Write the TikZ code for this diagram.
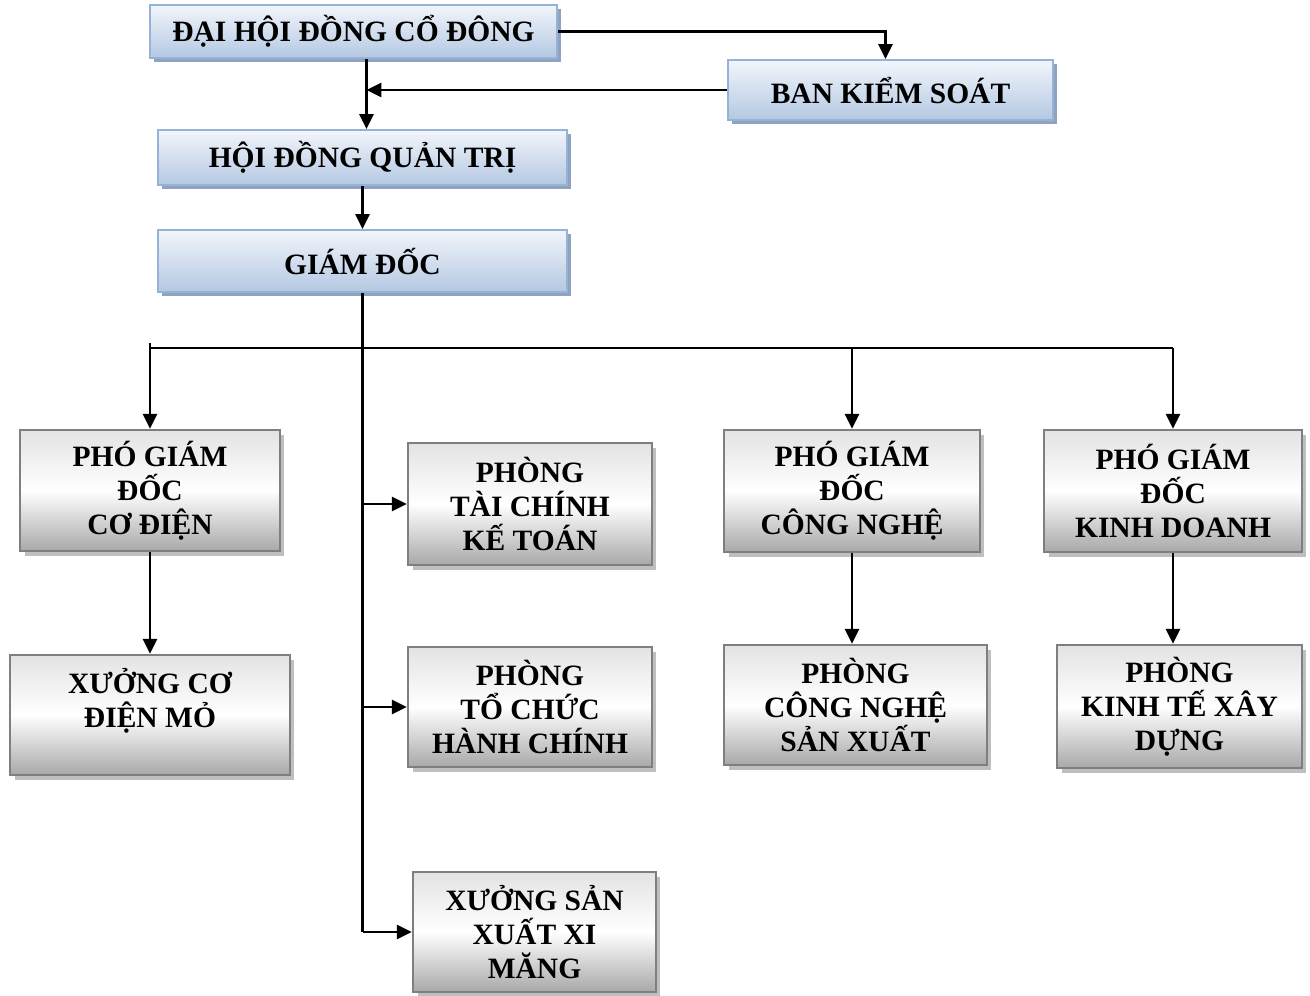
\documentclass[tikz,border=0pt]{standalone}
\usepackage{fontspec}
\setmainfont{Liberation Serif}
\usepackage{xcolor}
\usetikzlibrary{arrows.meta,positioning,shadows}

\definecolor{boardtop}{HTML}{F2F5FB}
\definecolor{boardbot}{HTML}{B4C8E2}
\definecolor{boardline}{HTML}{95B3D7}
\definecolor{boardshadow}{HTML}{8FA3BF}
\definecolor{unitline}{HTML}{7F7F7F}
\definecolor{unitshadow}{HTML}{BFBFBF}

\begin{document}
\begin{tikzpicture}[
  x=0.02cm, y=-0.02cm,
  board/.style={draw=boardline, line width=1.2pt, top color=boardtop, bottom color=boardbot,
                align=center, font=\fontsize{16.8}{19.3}\selectfont\bfseries,
                drop shadow={shadow xshift=0.08cm, shadow yshift=-0.08cm, fill=boardshadow, opacity=1}},
  unit/.style={draw=unitline, line width=1.4pt, top color=gray!22, bottom color=gray!68, middle color=white,
               align=center, font=\fontsize{16.8}{19.3}\selectfont\bfseries,
               drop shadow={shadow xshift=0.09cm, shadow yshift=-0.09cm, fill=unitshadow, opacity=1}},
  arr/.style={-{Triangle[length=8.5pt, width=8pt]}, line width=1.5pt},
  link/.style={line width=1.5pt}
]
  \useasboundingbox (0,0) rectangle (1310,995);

  % management
  \node[board, minimum width=8.14cm, minimum height=1.06cm] (dhdcd) at (353.5,31.5) {ĐẠI HỘI ĐỒNG CỔ ĐÔNG};
  \node[board, minimum width=6.5cm,  minimum height=1.2cm]  (bks)   at (890.5,90)   {BAN KIỂM SOÁT};
  \node[board, minimum width=8.18cm, minimum height=1.1cm]  (hdqt)  at (362.5,157.5) {HỘI ĐỒNG QUẢN TRỊ};
  \node[board, minimum width=8.18cm, minimum height=1.24cm] (gd)    at (362.5,261)  {GIÁM ĐỐC};

  % departments
  \node[unit, minimum width=5.2cm,  minimum height=2.42cm] (pgdcd) at (150,490.5)  {PHÓ GIÁM\\ĐỐC\\CƠ ĐIỆN};
  \node[unit, minimum width=5.6cm,  minimum height=2.4cm]  (xcdm)  at (150,715)    {XƯỞNG CƠ\\ĐIỆN MỎ\\\mbox{}};
  \node[unit, minimum width=4.88cm, minimum height=2.44cm] (ptckt) at (530,504)    {PHÒNG\\TÀI CHÍNH\\KẾ TOÁN};
  \node[unit, minimum width=4.88cm, minimum height=2.4cm]  (ptchc) at (530,707)    {PHÒNG\\TỔ CHỨC\\HÀNH CHÍNH};
  \node[unit, minimum width=4.86cm, minimum height=2.4cm]  (xsxxm) at (534.5,932)  {XƯỞNG SẢN\\XUẤT XI\\MĂNG};
  \node[unit, minimum width=5.12cm, minimum height=2.44cm] (pgdcn) at (852,491)    {PHÓ GIÁM\\ĐỐC\\CÔNG NGHỆ};
  \node[unit, minimum width=5.26cm, minimum height=2.4cm]  (pcnsx) at (855.5,705)  {PHÒNG\\CÔNG NGHỆ\\SẢN XUẤT};
  \node[unit, minimum width=5.16cm, minimum height=2.44cm] (pgdkd) at (1173,491)   {PHÓ GIÁM\\ĐỐC\\KINH DOANH};
  \node[unit, minimum width=4.9cm,  minimum height=2.46cm] (pktxd) at (1179.5,706.5) {PHÒNG\\KINH TẾ XÂY\\DỰNG};

  \coordinate (bus) at (150,348);

  \draw[arr] (dhdcd.east) -| ([xshift=-0.1cm]bks.north);
  \draw[arr] ([xshift=0.08cm]dhdcd.south -| hdqt.north) -- ([xshift=0.08cm]hdqt.north);
  \draw[arr] (bks.west) -- ([xshift=0.08cm]bks.west -| hdqt.north);
  \draw[arr] (hdqt) -- (gd);

  % trunk from the director
  \draw[link] (gd.south) -- (gd.south |- xsxxm.west);
  \draw[arr] (gd.south |- ptckt.west) -- (ptckt.west);
  \draw[arr] (gd.south |- ptchc.west) -- (ptchc.west);
  \draw[arr] (gd.south |- xsxxm.west) -- (xsxxm.west);

  % deputies
  \draw[link] ([yshift=0.1cm]bus) -- (bus) -- (bus -| pgdkd.north);
  \draw[arr] (bus) -- (pgdcd.north);
  \draw[arr] (bus -| pgdcn.north) -- (pgdcn.north);
  \draw[arr] (bus -| pgdkd.north) -- (pgdkd.north);

  \draw[arr] (pgdcd) -- (xcdm);
  \draw[arr] (pgdcn.south) -- (pgdcn.south |- pcnsx.north);
  \draw[arr] (pgdkd.south) -- (pgdkd.south |- pktxd.north);
\end{tikzpicture}
\end{document}
